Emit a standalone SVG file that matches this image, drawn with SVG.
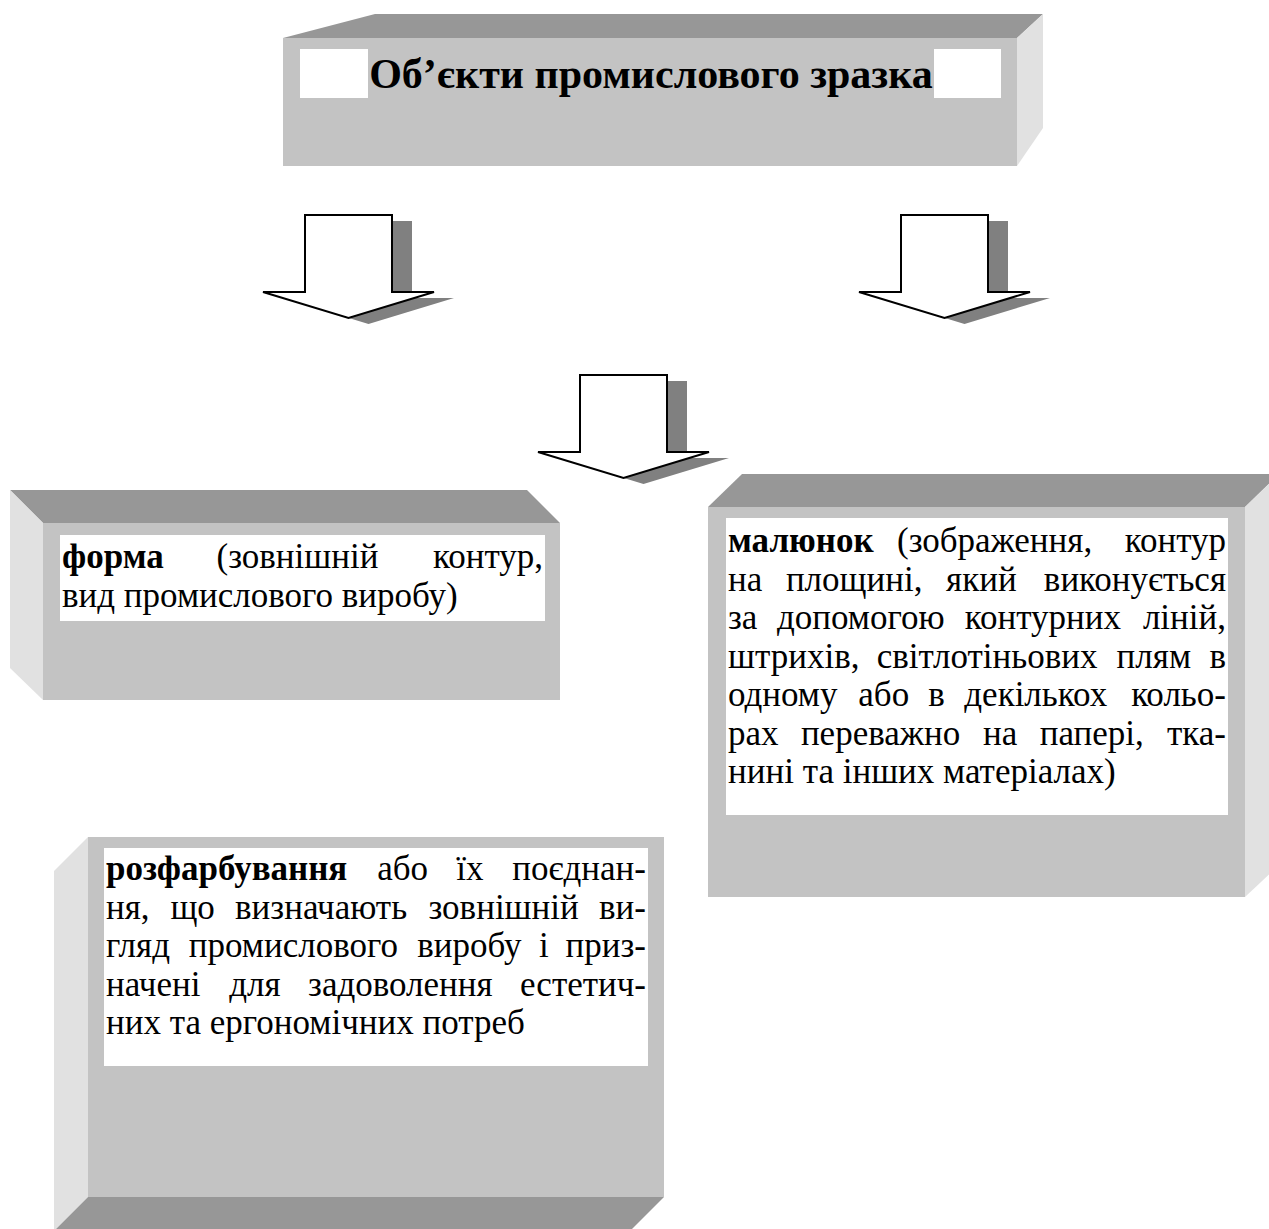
<svg xmlns="http://www.w3.org/2000/svg" width="1269" height="1229" viewBox="0 0 1269 1229">
<style>
.front{fill:#c3c3c3}
.topf{fill:#979797}
.side{fill:#e1e1e1}
.hl{fill:#ffffff}
.shadow{fill:#808080}
.arrow{fill:#ffffff;stroke:#000000;stroke-width:2;stroke-linejoin:miter}
text{font-family:"Liberation Serif","Times New Roman",serif;fill:#000000}
.title{font-size:42px;font-weight:bold}
.body{font-size:35px}
.b{font-weight:bold}
.e{text-anchor:end}
</style>
<defs>
<polygon id="arrowShape" points="0,0 87,0 87,77 129,77 43.5,103 -42,77 0,77"/>
</defs>
<rect width="1269" height="1229" fill="#ffffff"/>

<g id="node-title">
<polygon class="topf" points="283,38 375,14 1043,14 1017,38"/>
<polygon class="side" points="1017,38 1043,14 1043,128 1017,166"/>
<rect class="front" x="283" y="38" width="734" height="128"/>
<rect class="hl" x="300" y="49" width="68" height="49"/>
<rect class="hl" x="934" y="49" width="67" height="49"/>
<text class="title" x="651" y="88" text-anchor="middle">Об’єкти промислового зразка</text>
</g>

<g id="connectors">
<g transform="translate(305,215)">
<use href="#arrowShape" class="shadow" transform="translate(20,6)"/>
<use href="#arrowShape" class="arrow"/>
</g>
<g transform="translate(901,215)">
<use href="#arrowShape" class="shadow" transform="translate(20,6)"/>
<use href="#arrowShape" class="arrow"/>
</g>
<g transform="translate(580,375)">
<use href="#arrowShape" class="shadow" transform="translate(20,6)"/>
<use href="#arrowShape" class="arrow"/>
</g>
</g>

<g id="node-forma">
<polygon class="topf" points="10,490 527,490 560,523 43,523"/>
<polygon class="side" points="10,490 43,523 43,700 10,668"/>
<rect class="front" x="43" y="523" width="517" height="177"/>
<rect class="hl" x="60" y="535" width="485" height="86"/>
<text class="body" y="568"><tspan x="62" class="b">форма</tspan><tspan x="216.5">(зовнішній</tspan><tspan x="543" class="e">контур,</tspan></text>
<text class="body" x="62" y="606.5">вид промислового виробу)</text>
</g>

<g id="node-malyunok">
<polygon class="topf" points="742,474 1279,474 1245,507 708,507"/>
<polygon class="side" points="1245,507 1279,474 1279,865 1245,897"/>
<rect class="front" x="708" y="507" width="537" height="390"/>
<rect class="hl" x="726" y="518" width="502" height="297"/>
<text class="body" y="552"><tspan x="728" class="b">малюнок</tspan><tspan x="897">(зображення,</tspan><tspan x="1226" class="e">контур</tspan></text>
<text class="body" y="590.5"><tspan x="728">на</tspan><tspan x="785.9">площині,</tspan><tspan x="946.1">який</tspan><tspan x="1226" class="e">виконується</tspan></text>
<text class="body" y="629"><tspan x="728">за</tspan><tspan x="777">допомогою</tspan><tspan x="964.7">контурних</tspan><tspan x="1226" class="e">ліній,</tspan></text>
<text class="body" y="667.5"><tspan x="728">штрихів,</tspan><tspan x="876.8">світлотіньових</tspan><tspan x="1116.6">плям</tspan><tspan x="1226" class="e">в</tspan></text>
<text class="body" y="706"><tspan x="728">одному</tspan><tspan x="858.3">або</tspan><tspan x="928.3">в</tspan><tspan x="964.3">декількох</tspan><tspan x="1226" class="e">кольо-</tspan></text>
<text class="body" y="744.5"><tspan x="728">рах</tspan><tspan x="800.9">переважно</tspan><tspan x="983">на</tspan><tspan x="1039.7">папері,</tspan><tspan x="1226" class="e">тка-</tspan></text>
<text class="body" x="728" y="783">нині та інших матеріалах)</text>
</g>

<g id="node-rozfarbuvannya">
<polygon class="side" points="88,837 54,871 54,1231 88,1197"/>
<polygon class="topf" points="88,1197 664,1197 630,1231 54,1231"/>
<rect class="front" x="88" y="837" width="576" height="360"/>
<rect class="hl" x="104" y="848" width="544" height="218"/>
<text class="body" y="880"><tspan x="106" class="b">розфарбування</tspan><tspan x="377.2">або</tspan><tspan x="456.3">їх</tspan><tspan x="646" class="e">поєднан-</tspan></text>
<text class="body" y="918.5"><tspan x="106">ня,</tspan><tspan x="170.4">що</tspan><tspan x="235.1">визначають</tspan><tspan x="428.5">зовнішній</tspan><tspan x="646" class="e">ви-</tspan></text>
<text class="body" y="957"><tspan x="106">гляд</tspan><tspan x="188.7">промислового</tspan><tspan x="417.2">виробу</tspan><tspan x="539.1">і</tspan><tspan x="646" class="e">приз-</tspan></text>
<text class="body" y="995.5"><tspan x="106">начені</tspan><tspan x="229.2">для</tspan><tspan x="308.1">задоволення</tspan><tspan x="646" class="e">естетич-</tspan></text>
<text class="body" x="106" y="1034">них та ергономічних потреб</text>
</g>
</svg>
